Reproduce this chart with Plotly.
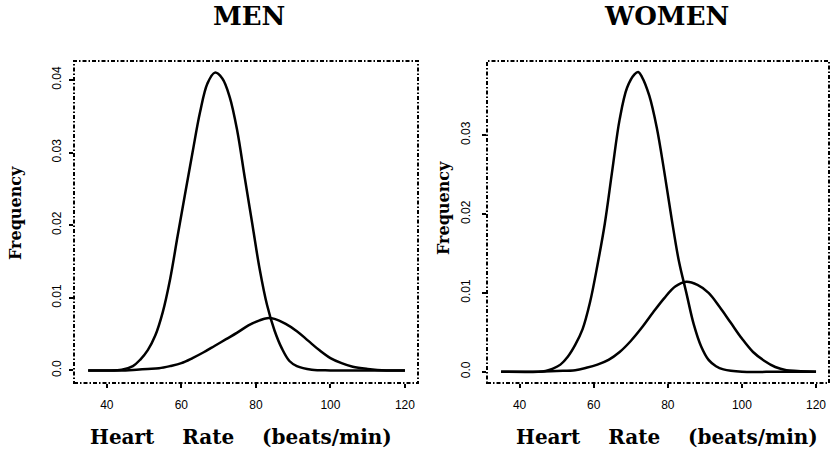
import plotly.graph_objects as go
from plotly.subplots import make_subplots

# heart rate (beats/min) and frequency
men_tall_x = [35, 40, 44, 47, 49, 51, 53, 55, 57, 59, 61, 63, 65, 67, 69, 71, 73, 75,
              77, 79, 81, 83, 85, 87, 89, 91, 95, 100, 110, 120]
men_tall_y = [0.0, 0.0, 0.0001, 0.0006, 0.0015, 0.0028, 0.0048, 0.0080, 0.0126, 0.0185,
              0.0243, 0.0300, 0.0355, 0.0395, 0.0410, 0.0402, 0.0376, 0.0330, 0.0266,
              0.0203, 0.0140, 0.0090, 0.0055, 0.0030, 0.0013, 0.0006, 0.0001, 0.0, 0.0, 0.0]

men_flat_x = [35, 45, 48, 51, 54, 57, 60, 63, 66, 69, 72, 75, 78, 81, 83, 85, 88, 91, 94,
              97, 100, 103, 106, 110, 115, 120]
men_flat_y = [0.0, 0.0, 0.0001, 0.0002, 0.0003, 0.0006, 0.0010, 0.0017, 0.0025, 0.0034,
              0.0043, 0.0052, 0.0062, 0.0069, 0.0072, 0.0071, 0.0064, 0.0054, 0.0041,
              0.0028, 0.0017, 0.0010, 0.0005, 0.0002, 0.0, 0.0]

women_tall_x = [35, 45, 47, 49, 51, 53, 55, 57, 59, 61, 63, 65, 67, 69, 71, 72, 73, 75,
                77, 79, 81, 83, 85, 87, 89, 91, 93, 95, 100, 110, 120]
women_tall_y = [0.0, 0.0, 0.0001, 0.0004, 0.0009, 0.0019, 0.0034, 0.0054, 0.0088, 0.0135,
                0.0188, 0.0255, 0.0320, 0.0360, 0.0377, 0.0380, 0.0374, 0.0350, 0.0310,
                0.0255, 0.0195, 0.0140, 0.0100, 0.0060, 0.0032, 0.0015, 0.0007, 0.0003,
                0.0, 0.0, 0.0]

women_flat_x = [35, 45, 50, 55, 58, 61, 64, 67, 70, 73, 76, 79, 82, 85, 88, 91, 94, 97,
                100, 103, 106, 109, 112, 115, 120]
women_flat_y = [0.0, 0.0, 0.0001, 0.0002, 0.0005, 0.0009, 0.0015, 0.0025, 0.0039, 0.0056,
                0.0075, 0.0093, 0.0108, 0.0114, 0.0110, 0.0100, 0.0082, 0.0062, 0.0042,
                0.0025, 0.0014, 0.0006, 0.0002, 0.0001, 0.0]

x_ticks = [40, 60, 80, 100, 120]
men_y_ticks = [0.0, 0.01, 0.02, 0.03, 0.04]
men_y_labels = ['0.0', '0.01', '0.02', '0.03', '0.04']
women_y_ticks = [0.0, 0.01, 0.02, 0.03]
women_y_labels = ['0.0', '0.01', '0.02', '0.03']

W, H = 831, 451
SERIF = 'DejaVu Serif'
SANS = 'Liberation Sans'


def px(x):
    return x / W


def py(y):
    return 1 - y / H


fig = make_subplots(rows=1, cols=2)

curve = dict(color='black', width=2.5, shape='spline', smoothing=1.0)
for col, xs, ys in [(1, men_tall_x, men_tall_y), (1, men_flat_x, men_flat_y),
                    (2, women_tall_x, women_tall_y), (2, women_flat_x, women_flat_y)]:
    fig.add_trace(go.Scatter(x=xs, y=ys, mode='lines', line=curve,
                             showlegend=False, hoverinfo='skip'), row=1, col=col)

xaxis = dict(range=[31.2, 123.5], tickvals=x_ticks, ticks='outside', ticklen=4,
             tickwidth=1.5, tickcolor='black', showgrid=False, zeroline=False,
             showline=False, ticklabelstandoff=7,
             tickfont=dict(family=SANS, size=12, color='black'))
yaxis = dict(ticks='outside', ticklen=4, tickwidth=1.5, tickcolor='black', tickangle=-90,
             showgrid=False, zeroline=False, showline=False,
             tickfont=dict(family=SANS, size=12, color='black'))

y_dom = [py(383), py(61)]
fig.update_layout(
    xaxis=dict(xaxis, domain=[px(74), px(418)]),
    xaxis2=dict(xaxis, domain=[px(487), px(829)]),
    yaxis=dict(yaxis, domain=y_dom, range=[-0.00173, 0.0426], ticklabelstandoff=3,
               tickvals=men_y_ticks, ticktext=men_y_labels),
    yaxis2=dict(yaxis, domain=y_dom, range=[-0.00143, 0.0394], ticklabelstandoff=7,
                tickvals=women_y_ticks, ticktext=women_y_labels),
)

# dotted frame round each panel
for xr, yr in [('x domain', 'y domain'), ('x2 domain', 'y2 domain')]:
    fig.add_shape(type='rect', xref=xr, yref=yr, x0=0, x1=1, y0=0, y1=1,
                  line=dict(color='black', width=2, dash='4px,2px,1.5px,2px'))

sp = '\u00a0' * 4
notes = [
    ('MEN', 249, 16, 26, 0),
    ('WOMEN', 666, 16, 26, 0),
    ('Frequency', 15, 213, 16, -90),
    ('Frequency', 443, 208, 16, -90),
    ('Heart' + sp + 'Rate' + sp + '(beats/min)', 241, 437, 20, 0),
    ('Heart' + sp + 'Rate' + sp + '(beats/min)', 667, 437, 20, 0),
]
for text, x, y, size, angle in notes:
    fig.add_annotation(text='<b>' + text + '</b>', x=px(x), y=py(y), xref='paper',
                       yref='paper', showarrow=False, textangle=angle,
                       xanchor='center', yanchor='middle',
                       font=dict(family=SERIF, size=size, color='black'))

fig.update_layout(width=W, height=H, margin=dict(l=0, r=0, t=0, b=0),
                  paper_bgcolor='white', plot_bgcolor='white')

# drop the page's default body margin so the figure sits at the window corner
fig.write_html('out.html', config={'displayModeBar': False},
               post_script="document.body.style.margin='0';")
